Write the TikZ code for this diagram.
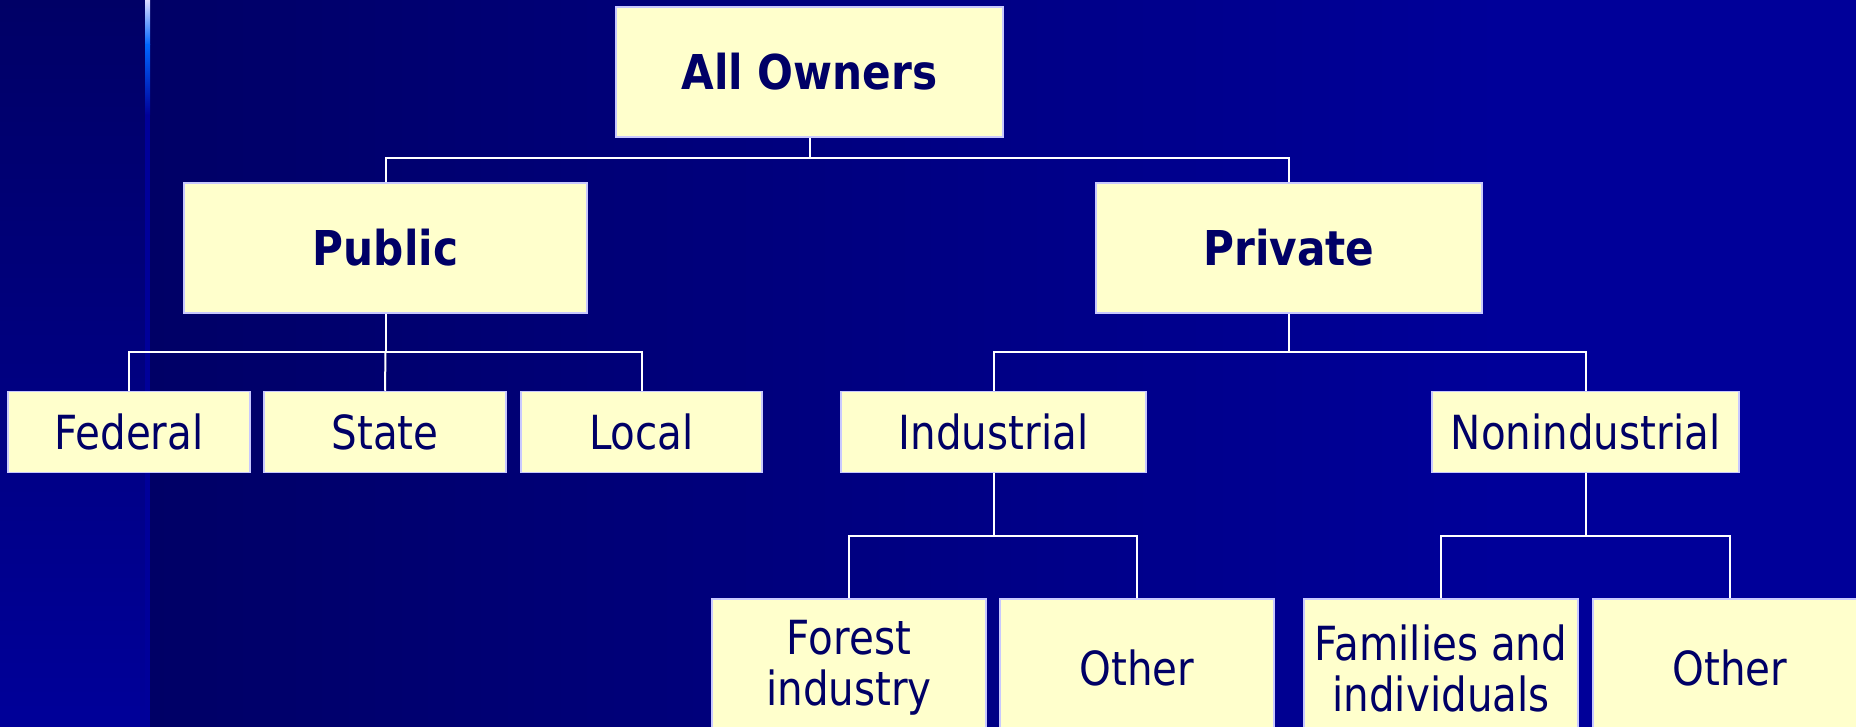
\documentclass[tikz,border=0pt]{standalone}
\usepackage{fontspec}
\newfontfamily\regf{DejaVu Sans}[FakeStretch=0.86]
\newfontfamily\boldf{DejaVu Sans}[FakeStretch=0.88]
\definecolor{bgA}{RGB}{0,0,102}
\definecolor{bgB}{RGB}{0,0,153}
\definecolor{boxfill}{RGB}{255,255,204}
\definecolor{boxline}{RGB}{200,200,255}
\definecolor{txt}{RGB}{0,0,102}
\definecolor{barlight}{RGB}{220,220,255}
\definecolor{barblue}{RGB}{0,102,255}
\begin{document}
\begin{tikzpicture}[x=1pt,y=-1pt,
  box/.style={draw=boxline, line width=1.5pt, fill=boxfill, text=txt, inner sep=0pt, align=center, anchor=center},
  bigbox/.style={box, minimum height=130pt, font=\boldf\bfseries\fontsize{48}{54}\selectfont},
  midbox/.style={box, minimum height=81pt, font=\regf\fontsize{47}{51}\selectfont},
  lowbox/.style={box, minimum height=138pt, minimum width=274pt, font=\regf\fontsize{47}{51}\selectfont},
  conn/.style={draw=white, line width=2pt}]
\useasboundingbox (0,0) rectangle (1856,727);
\clip (0,0) rectangle (1856,727);
% background
\fill[bgB] (0,0) rectangle (1856,727);
\shade[left color=bgA, right color=bgB] (150,0) rectangle (1500,727);
\shade[top color=bgA, bottom color=bgB] (0,0) rectangle (145,727);
\shade[top color=barlight, bottom color=barblue] (145,0) rectangle (150,45);
\shade[top color=barblue, bottom color=bgB] (145,45) rectangle (150,115);
\fill[bgB] (145,115) rectangle (150,727);
% nodes
\node[bigbox, minimum width=387pt] (all) at (809.5,72) {All Owners};
\node[bigbox, minimum width=403pt] (pub) at (385.5,248) {Public};
\node[bigbox, minimum width=386pt] (priv) at (1289,248) {Private};
\node[midbox, minimum width=242pt] (fed) at (129,432) {Federal};
\node[midbox, minimum width=242pt] (state) at (385,432) {State};
\node[midbox, minimum width=241pt] (local) at (641.5,432) {Local};
\node[midbox, minimum width=305pt] (ind) at (993.5,432) {Industrial};
\node[midbox, minimum width=307pt] (nonind) at (1585.5,432) {Nonindustrial};
\node[lowbox] (forest) at (849,668) {Forest\\industry};
\node[lowbox] (oth1) at (1137,668) {Other};
\node[lowbox] (fam) at (1441,668) {Families and\\individuals};
\node[lowbox] (oth2) at (1730,668) {Other};
% junctions
\coordinate (j1) at (809.5,158);
\coordinate (j2) at (385.5,352);
\coordinate (j3) at (1289,352);
\coordinate (j4) at (993.5,536);
\coordinate (j5) at (1585.5,536);
% connectors
\draw[conn] (all.south) -- (j1);
\draw[conn] (pub.north) |- (j1) -| (priv.north);
\draw[conn] (pub.south) -- (j2);
\draw[conn] (fed.north) |- (j2) -| (local.north);
\draw[conn] (j2) -- (state.north);
\draw[conn] (priv.south) -- (j3);
\draw[conn] (ind.north) |- (j3) -| (nonind.north);
\draw[conn] (ind.south) -- (j4);
\draw[conn] (forest.north) |- (j4) -| (oth1.north);
\draw[conn] (nonind.south) -- (j5);
\draw[conn] (fam.north) |- (j5) -| (oth2.north);
\end{tikzpicture}
\end{document}
